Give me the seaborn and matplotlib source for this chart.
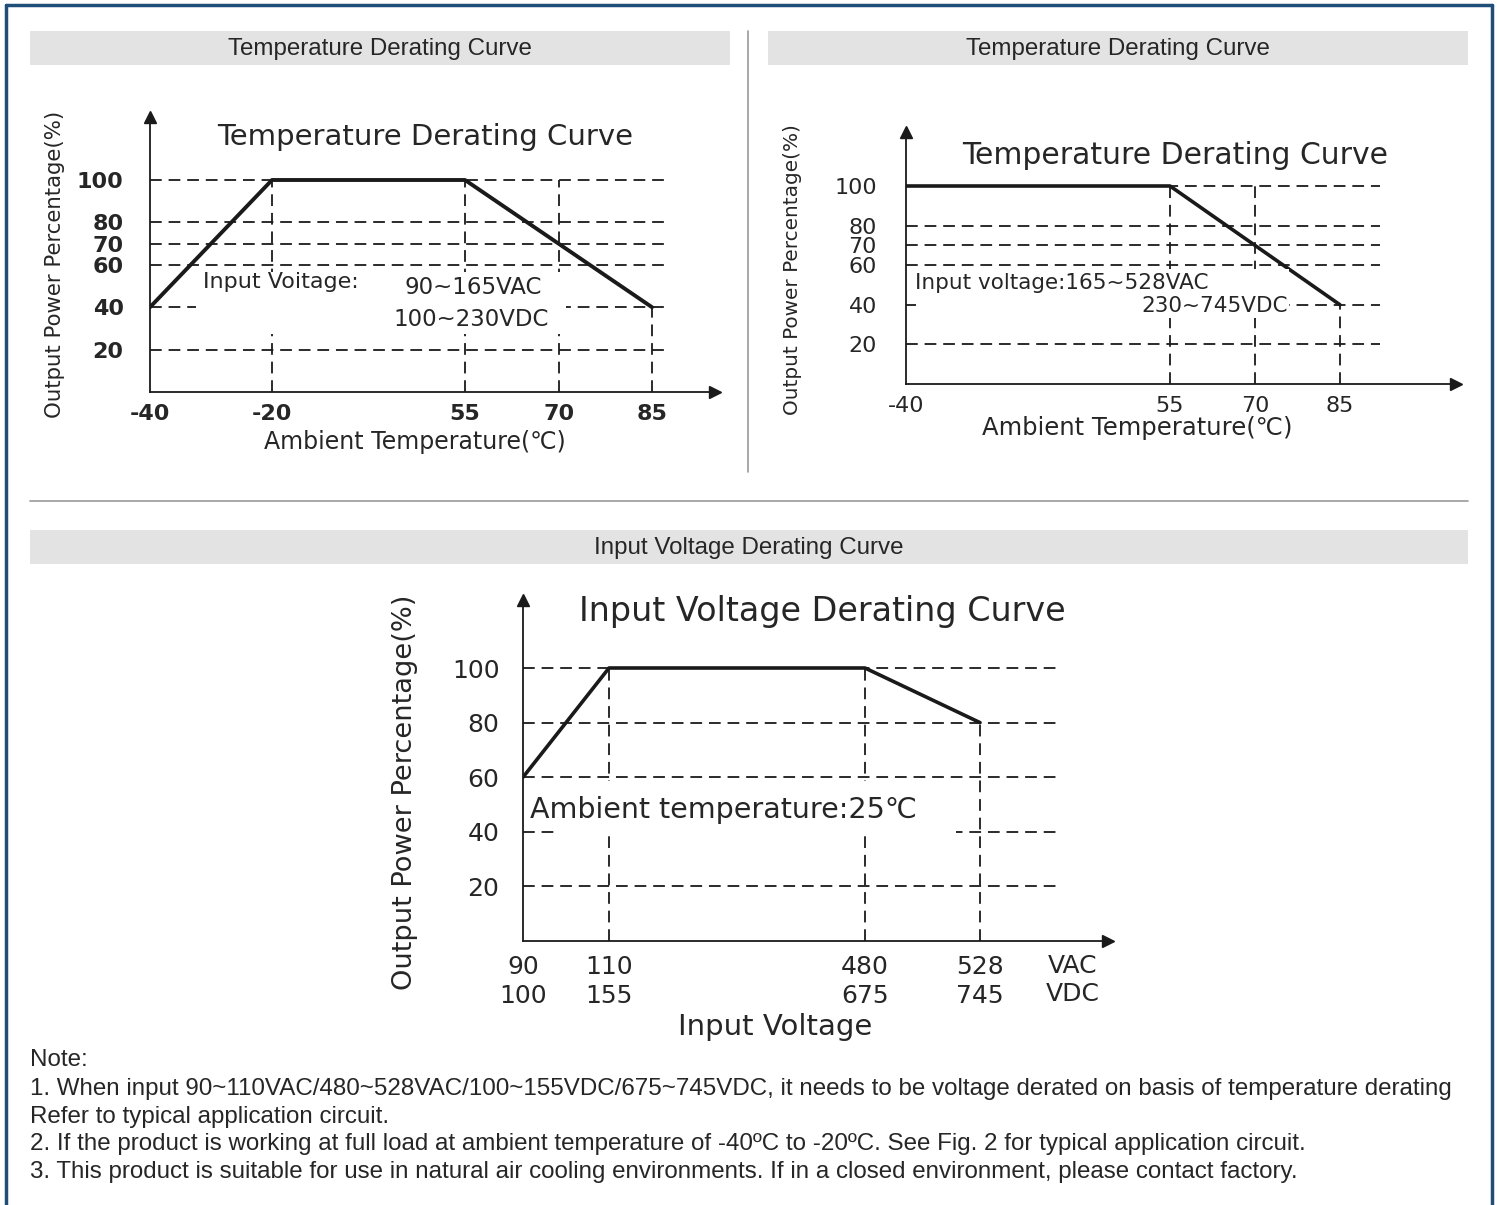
import numpy as np
import pandas as pd
import matplotlib
matplotlib.use("Agg")
import matplotlib.pyplot as plt
import seaborn as sns
from matplotlib.patches import Rectangle
from matplotlib.lines import Line2D

# Temperature derating, 90~165VAC input
temp1_x = [-40, -20, 55, 85]
temp1_y = [40, 100, 100, 40]
temp1_ticks = [-40, -20, 55, 70, 85]
temp1_guides = [100, 100, 100, 40]          # heights of vertical guides at -20, 55, 70, 85
temp1_levels = [100, 80, 70, 60, 40, 20]

# Temperature derating, 165~528VAC input
temp2_x = [-40, 55, 85]
temp2_y = [100, 100, 40]
temp2_ticks = [-40, 55, 70, 85]
temp2_guides = [100, 100, 40]               # at 55, 70, 85
temp2_levels = [100, 80, 70, 60, 40, 20]

# Input voltage derating
volt_vac = [90, 110, 480, 528]
volt_vdc = [100, 155, 675, 745]
volt_y = [60, 100, 100, 80]
volt_guides = [100, 100, 80]                # at 110, 480, 528
volt_levels = [100, 80, 60, 40, 20]

notes = [
    "Note:",
    "1. When input 90~110VAC/480~528VAC/100~155VDC/675~745VDC, it needs to be voltage derated on basis of temperature derating",
    "Refer to typical application circuit.",
    "2. If the product is working at full load at ambient temperature of -40ºC to -20ºC. See Fig. 2 for typical application circuit.",
    "3. This product is suitable for use in natural air cooling environments. If in a closed environment, please contact factory.",
]

sns.set_style("white")
plt.rcParams["font.family"] = ["DejaVu Sans"]

W, H = 1497, 1205
fig = plt.figure(figsize=(W / 100, H / 100), dpi=100)
INK = "#1a1a1a"
ARIAL = ["Liberation Sans", "DejaVu Sans"]


def fx(x):
    return x / W


def fy(y):
    return 1 - y / H


def rect(x0, y0, x1, y1, color, z=1):
    fig.add_artist(Rectangle((fx(x0), fy(y1)), (x1 - x0) / W, (y1 - y0) / H,
                             transform=fig.transFigure, fc=color, ec="none", zorder=z))


def line(xs, ys, color, lw):
    fig.add_artist(Line2D([fx(v) for v in xs], [fy(v) for v in ys],
                          transform=fig.transFigure, color=color, lw=lw))


def piecewise(ticks, px):
    # schematic axis: tick values sit at uneven spacing
    t = np.asarray(ticks, float)
    p = np.asarray(px, float)
    s0 = (p[1] - p[0]) / (t[1] - t[0])
    s1 = (p[-1] - p[-2]) / (t[-1] - t[-2])

    def fwd(x):
        x = np.asarray(x, float)
        y = np.interp(x, t, p)
        y = np.where(x < t[0], p[0] + (x - t[0]) * s0, y)
        return np.where(x > t[-1], p[-1] + (x - t[-1]) * s1, y)

    def inv(y):
        y = np.asarray(y, float)
        x = np.interp(y, p, t)
        x = np.where(y < p[0], t[0] + (y - p[0]) / s0, x)
        return np.where(y > p[-1], t[-1] + (y - p[-1]) / s1, x)

    return fwd, inv


def make_chart(box, ticks, tick_px, y100, xs, ys, levels, guide_x, guide_top,
               grid_end, yfont, ypad, xpad, curve_lw=2.6):
    left, top, right, bottom = box
    ax = fig.add_axes([fx(left), fy(bottom), (right - left) / W, (bottom - top) / H])
    ax.patch.set_alpha(0)
    fwd, inv = piecewise(ticks, tick_px)
    ax.set_xscale("function", functions=(fwd, inv))
    ax.set_xlim(ticks[0], float(inv(right)))
    ax.set_ylim(0, (bottom - top) / ((bottom - y100) / 100))

    dash = dict(color=INK, lw=1.3, linestyle=(0, (6.5, 3.8)), zorder=1)
    gfrac = (grid_end - left) / (right - left)
    for lv in levels:
        ax.axhline(lv, xmin=0, xmax=gfrac, **dash)
    ax.vlines(guide_x, 0, guide_top, **dash)

    df = pd.DataFrame({"x": xs, "y": ys})
    sns.lineplot(data=df, x="x", y="y", ax=ax, color=INK, lw=curve_lw,
                 sort=False, estimator=None, zorder=3)

    for s in ["top", "right"]:
        ax.spines[s].set_visible(False)
    for s in ["left", "bottom"]:
        ax.spines[s].set_color(INK)
        ax.spines[s].set_linewidth(1.3)
    ax.plot(1, 0, ">", color=INK, ms=9, transform=ax.transAxes, clip_on=False)
    ax.plot(0, 1, "^", color=INK, ms=9, transform=ax.transAxes, clip_on=False)

    ax.set_yticks(levels)
    ax.set_yticklabels([str(v) for v in levels], **yfont)
    ax.set_xticks(ticks)
    ax.tick_params(axis="y", length=0, pad=ypad)
    ax.tick_params(axis="x", length=0, pad=xpad)
    ax.set_xlabel("")
    ax.set_ylabel("")
    ax.grid(False)
    return ax


# frame, title bars, dividers
line([6, 6], [5, H + 5], "#1f4e79", 2.5)
line([6, 1492], [5, 5], "#1f4e79", 2.5)
line([1492, 1492], [5, H + 5], "#1f4e79", 2.5)
rect(30, 31, 730, 65, "#e3e3e3", 0)
rect(768, 31, 1468, 65, "#e3e3e3", 0)
rect(30, 530, 1468, 564, "#e3e3e3", 0)
line([748, 748], [31, 472], "#9a9a9a", 1.2)
line([30, 1468], [501, 501], "#9a9a9a", 1.2)
fig.text(fx(380), fy(49), "Temperature Derating Curve", family=ARIAL, fontsize=17.4,
         ha="center", va="center")
fig.text(fx(1118), fy(49), "Temperature Derating Curve", family=ARIAL, fontsize=17.4,
         ha="center", va="center")
fig.text(fx(749), fy(548), "Input Voltage Derating Curve", family=ARIAL, fontsize=17.4,
         ha="center", va="center")

# chart 1
ax1 = make_chart((150, 117, 715, 392), temp1_ticks, [150, 272, 465, 559, 652], 180,
                 temp1_x, temp1_y, temp1_levels, temp1_ticks[1:], temp1_guides, 668,
                 dict(fontsize=16, fontweight="bold"), 19, 9, curve_lw=2.8)
ax1.set_xticklabels([str(v) for v in temp1_ticks], fontsize=16, fontweight="bold")
rect(196, 272, 566, 334, "white", 1)
fig.text(fx(203), fy(282), "Input Voitage:", fontsize=16, ha="left", va="center", zorder=4)
fig.text(fx(404), fy(287), "90~165VAC", fontsize=16.5, ha="left", va="center", zorder=4)
fig.text(fx(393), fy(320), "100~230VDC", fontsize=16.5, ha="left", va="center", zorder=4)
fig.text(fx(425), fy(137), "Temperature Derating Curve", fontsize=21, ha="center", va="center")
fig.text(fx(55), fy(264), "Output Power Percentage(%)", fontsize=15.3, rotation=90,
         ha="center", va="center")
fig.text(fx(415), fy(442), "Ambient Temperature(℃)", fontsize=17, ha="center", va="center")

# chart 2
ax2 = make_chart((906, 132, 1456, 384), temp2_ticks, [906, 1170, 1255, 1340], 186,
                 temp2_x, temp2_y, temp2_levels, temp2_ticks[1:], temp2_guides, 1380,
                 dict(fontsize=16), 21, 9)
ax2.set_xticklabels([str(v) for v in temp2_ticks], fontsize=16)
rect(916, 269, 1289, 318, "white", 1)
fig.text(fx(915), fy(283), "Input voltage:165~528VAC", fontsize=15.5, ha="left", va="center", zorder=4)
fig.text(fx(1288), fy(306), "230~745VDC", fontsize=15.5, ha="right", va="center", zorder=4)
fig.text(fx(1175), fy(155), "Temperature Derating Curve", fontsize=21.5, ha="center", va="center")
fig.text(fx(793), fy(270), "Output Power Percentage(%)", fontsize=14.4, rotation=90,
         ha="center", va="center")
fig.text(fx(1137), fy(428), "Ambient Temperature(℃)", fontsize=17.5, ha="center", va="center")

# chart 3
ax3 = make_chart((523, 600, 1108, 941), volt_vac, [523, 609, 865, 980], 668,
                 volt_vac, volt_y, volt_levels, volt_vac[1:], volt_guides, 1056,
                 dict(fontsize=18), 17, 10)
ax3.set_xticklabels([f"{a}\n{d}" for a, d in zip(volt_vac, volt_vdc)], fontsize=18,
                    linespacing=1.25, va="top")
rect(555, 781, 956, 836, "white", 1)
fig.text(fx(1073), fy(980), "VAC\nVDC", fontsize=18, linespacing=1.25, ha="center", va="center")
fig.text(fx(530), fy(810), "Ambient temperature:25℃", fontsize=20.5, ha="left", va="center", zorder=4)
fig.text(fx(822), fy(611), "Input Voltage Derating Curve", fontsize=24, ha="center", va="center")
fig.text(fx(405), fy(792), "Output Power Percentage(%)", fontsize=19.6, rotation=90,
         ha="center", va="center")
fig.text(fx(775), fy(1027), "Input Voltage", fontsize=21, ha="center", va="center")

# notes
for i, txt in enumerate(notes):
    fig.text(fx(30), fy([1060, 1089, 1117, 1144, 1172][i]), txt, family=ARIAL,
             fontsize=17.4, ha="left", va="center")

fig.savefig("out.png", dpi=100, facecolor="white")
